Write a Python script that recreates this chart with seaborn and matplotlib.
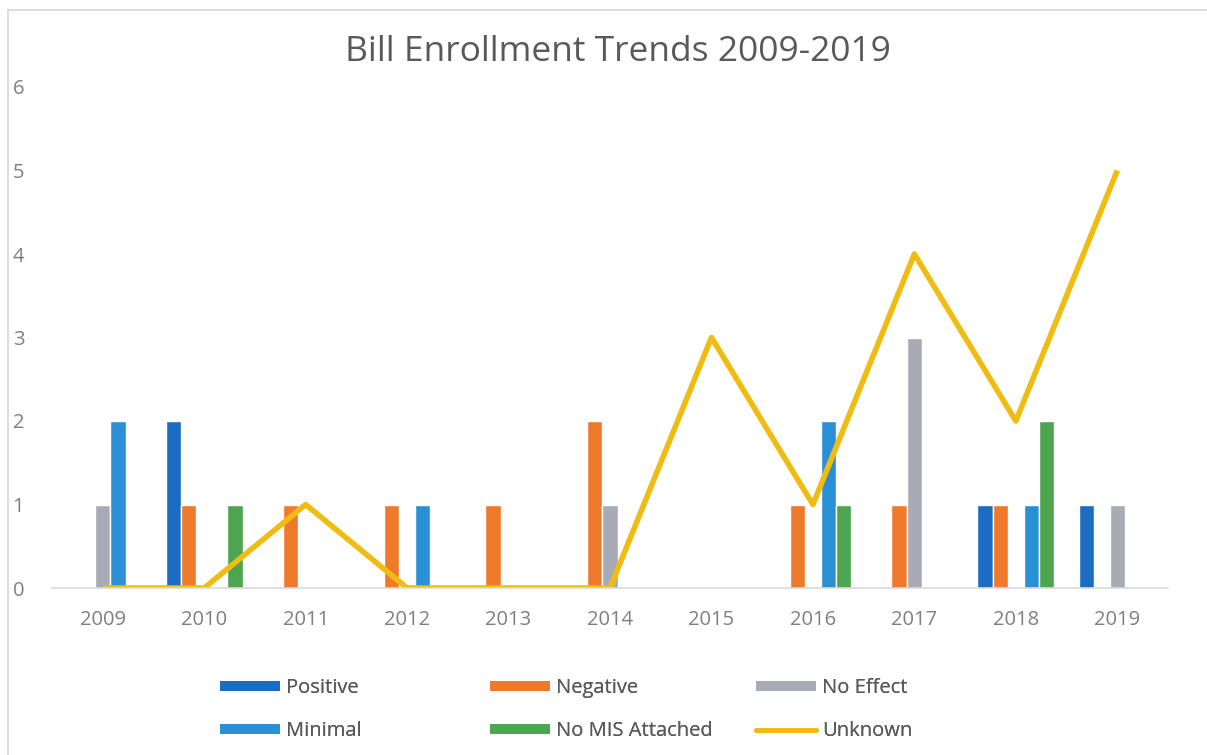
import numpy as np
import pandas as pd
import matplotlib
matplotlib.use("Agg")
import matplotlib.pyplot as plt
from matplotlib.patches import Patch
from matplotlib.lines import Line2D
import seaborn as sns

# ---- data ----
years = ["2009", "2010", "2011", "2012", "2013", "2014", "2015", "2016", "2017", "2018", "2019"]
positive = [0, 2, 0, 0, 0, 0, 0, 0, 0, 1, 1]
negative = [0, 1, 1, 1, 1, 2, 0, 1, 1, 1, 0]
no_effect = [1, 0, 0, 0, 0, 1, 0, 0, 3, 0, 1]
minimal = [2, 0, 0, 1, 0, 0, 0, 2, 0, 1, 0]
no_mis = [0, 1, 0, 0, 0, 0, 0, 1, 0, 2, 0]
unknown = [0, 0, 1, 0, 0, 0, 3, 1, 4, 2, 5]

bar_series = ["Positive", "Negative", "No Effect", "Minimal", "No MIS Attached"]
colors = {
    "Positive": "#1c6cc4",
    "Negative": "#ef7a2c",
    "No Effect": "#a8aab6",
    "Minimal": "#2b8fd6",
    "No MIS Attached": "#4ea54f",
    "Unknown": "#f0bc12",
}

df = pd.DataFrame({
    "Year": years,
    "Positive": positive,
    "Negative": negative,
    "No Effect": no_effect,
    "Minimal": minimal,
    "No MIS Attached": no_mis,
})
long_df = df.melt(id_vars="Year", var_name="Effect", value_name="Bills")

# ---- figure ----
sns.set_theme(style="white")
plt.rcParams["font.family"] = ["Open Sans", "DejaVu Sans"]

W, H = 1207, 755
fig = plt.figure(figsize=(W / 100, H / 100), dpi=100)
fig.patch.set_facecolor("white")
ax = fig.add_axes([52 / W, 1 - 588 / H, (1168 - 52) / W, (588 - 87) / H])

sns.barplot(
    data=long_df, x="Year", y="Bills", hue="Effect",
    hue_order=bar_series, order=years,
    palette=[colors[s] for s in bar_series],
    width=0.76, gap=0, saturation=1, errorbar=None,
    legend=False, ax=ax,
)
sns.pointplot(
    x=years, y=unknown, order=years, color=colors["Unknown"],
    marker="", linewidth=4, errorbar=None, ax=ax,
)
ax.lines[-1].set_solid_joinstyle("round")
ax.lines[-1].set_solid_capstyle("butt")

ax.set_ylim(0, 6)
ax.set_yticks(range(0, 7))
ax.set_xlim(-0.5, len(years) - 0.5)
ax.set_xlabel("")
ax.set_ylabel("")
for side in ["top", "right", "left"]:
    ax.spines[side].set_visible(False)
ax.spines["bottom"].set_color("#d9d9d9")
ax.spines["bottom"].set_linewidth(1.2)
ax.tick_params(axis="both", length=0, labelsize=14.5, labelcolor="#7f7f7f")
ax.tick_params(axis="y", pad=20)
ax.tick_params(axis="x", pad=16)
ax.grid(False)

fig.text(618 / W, 1 - 52 / H, "Bill Enrollment Trends 2009-2019",
         ha="center", va="center", fontsize=25.5, color="#595959")

# ---- legend: three columns, two rows ----
entries = [
    ("Positive", Patch(facecolor=colors["Positive"], edgecolor="none"), 220, 688),
    ("Negative", Patch(facecolor=colors["Negative"], edgecolor="none"), 490, 688),
    ("No Effect", Patch(facecolor=colors["No Effect"], edgecolor="none"), 756, 688),
    ("Minimal", Patch(facecolor=colors["Minimal"], edgecolor="none"), 220, 731),
    ("No MIS Attached", Patch(facecolor=colors["No MIS Attached"], edgecolor="none"), 490, 731),
    ("Unknown", Line2D([], [], color=colors["Unknown"], linewidth=3.5), 756, 731),
]
for label, handle, x, y in entries:
    leg = fig.legend(
        [handle], [label], loc="center left",
        bbox_to_anchor=(x / W, 1 - y / H), frameon=False,
        fontsize=14.5, labelcolor="#595959",
        handlelength=3.0, handleheight=0.42, handletextpad=0.3,
        borderpad=0, borderaxespad=0,
    )
    fig.add_artist(leg)

# faint frame around the chart area
fig.add_artist(Line2D([8 / W, 8 / W], [0, 1 - 10 / H], transform=fig.transFigure,
                      color="#d6d6d6", linewidth=1.2))
fig.add_artist(Line2D([8 / W, 1], [1 - 10 / H, 1 - 10 / H], transform=fig.transFigure,
                      color="#d6d6d6", linewidth=1.2))

fig.savefig("out.png", dpi=100, facecolor="white")
